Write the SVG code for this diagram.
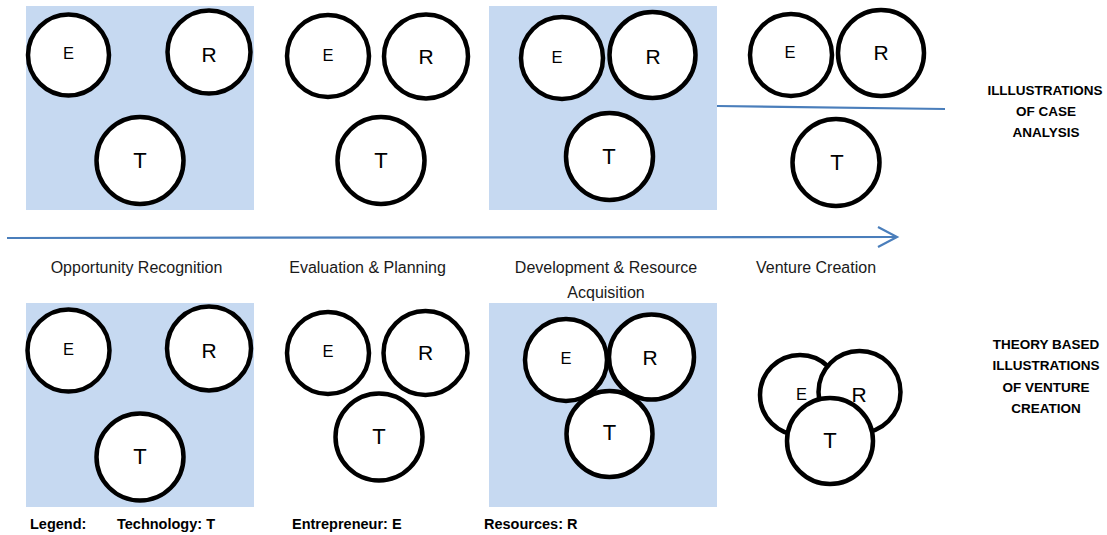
<svg xmlns="http://www.w3.org/2000/svg" width="1107" height="535" viewBox="0 0 1107 535">
  <style>
    .panel { fill: #c6d9f1; }
    .node circle { fill: #ffffff; stroke: #000000; stroke-width: 4.5; }
    .node text { font-family: "Liberation Sans", Arial, sans-serif; fill: #000000; text-anchor: middle; }
    .e { font-size: 16.5px; }
    .r { font-size: 21px; }
    .t { font-size: 22px; }
    .stage { font-family: "Liberation Sans", Arial, sans-serif; font-size: 16px; fill: #1a1a1a; text-anchor: middle; }
    .side { font-family: "Liberation Sans", Arial, sans-serif; font-size: 13.5px; font-weight: bold; fill: #000000; text-anchor: middle; }
    .legend { font-family: "Liberation Sans", Arial, sans-serif; font-size: 14.5px; font-weight: bold; fill: #000000; }
    .conn { fill: none; stroke: #4a7ebb; stroke-width: 2.2; }
  </style>

  <!-- shaded stage panels -->
  <g id="panels">
    <rect class="panel" x="26" y="6" width="228" height="204"/>
    <rect class="panel" x="489" y="6" width="228" height="204"/>
    <rect class="panel" x="26" y="303" width="228" height="204"/>
    <rect class="panel" x="489" y="303" width="228" height="204"/>
  </g>

  <!-- connectors: timeline arrow and row divider -->
  <g id="connectors">
    <line class="conn" x1="7" y1="238" x2="896" y2="237"/>
    <polyline class="conn" points="878,227 897,237 878,247"/>
    <line class="conn" x1="717" y1="106" x2="945" y2="109"/>
  </g>

  <!-- upper row: case analysis -->
  <g id="case-opportunity" class="node">
    <circle cx="68.5" cy="55" r="40.5"/><text class="e" x="68.5" y="58.5">E</text>
    <circle cx="209" cy="52" r="41.5"/><text class="r" x="209" y="61.5">R</text>
    <circle cx="140" cy="160.5" r="43.5"/><text class="t" x="140" y="168">T</text>
  </g>
  <g id="case-evaluation" class="node">
    <circle cx="328" cy="56" r="41"/><text class="e" x="328" y="61">E</text>
    <circle cx="426" cy="56.5" r="42"/><text class="r" x="426" y="64">R</text>
    <circle cx="381" cy="160.5" r="43.5"/><text class="t" x="381" y="168">T</text>
  </g>
  <g id="case-development" class="node">
    <circle cx="562" cy="58" r="41"/><text class="e" x="557" y="62.5">E</text>
    <circle cx="652.5" cy="55" r="43"/><text class="r" x="653" y="64">R</text>
    <circle cx="609.5" cy="156.5" r="43.5"/><text class="t" x="609" y="164">T</text>
  </g>
  <g id="case-venture" class="node">
    <circle cx="791" cy="55" r="41"/><text class="e" x="790" y="57.5">E</text>
    <circle cx="881" cy="53" r="43"/><text class="r" x="881" y="60">R</text>
    <circle cx="836" cy="162.5" r="43.5"/><text class="t" x="837" y="170">T</text>
  </g>

  <!-- stage labels -->
  <g id="stage-labels">
    <text class="stage" x="136.5" y="273">Opportunity Recognition</text>
    <text class="stage" x="367.5" y="273">Evaluation &amp; Planning</text>
    <text class="stage" x="606" y="273">Development &amp; Resource</text>
    <text class="stage" x="606" y="298">Acquisition</text>
    <text class="stage" x="816" y="273">Venture Creation</text>
  </g>

  <!-- lower row: theory based -->
  <g id="theory-opportunity" class="node">
    <circle cx="68.5" cy="350.5" r="41"/><text class="e" x="68.5" y="354.5">E</text>
    <circle cx="209" cy="348.5" r="42"/><text class="r" x="209" y="357.5">R</text>
    <circle cx="140" cy="457" r="43.5"/><text class="t" x="140" y="463.5">T</text>
  </g>
  <g id="theory-evaluation" class="node">
    <circle cx="328" cy="353" r="41"/><text class="e" x="328" y="357">E</text>
    <circle cx="425.5" cy="353" r="42"/><text class="r" x="425.5" y="360">R</text>
    <circle cx="379" cy="437" r="43.5"/><text class="t" x="379" y="443.5">T</text>
  </g>
  <g id="theory-development" class="node">
    <circle cx="566" cy="360" r="41"/><text class="e" x="566" y="363.5">E</text>
    <circle cx="651.5" cy="357" r="42.5"/><text class="r" x="650" y="365">R</text>
    <circle cx="609.5" cy="434" r="43"/><text class="t" x="609.5" y="439.5">T</text>
  </g>
  <g id="theory-venture" class="node">
    <circle cx="800" cy="395" r="40"/><text class="e" x="801.5" y="400">E</text>
    <circle cx="859.5" cy="392" r="41"/><text class="r" x="859" y="401.5">R</text>
    <circle cx="830" cy="441" r="43"/><text class="t" x="830" y="447.5">T</text>
  </g>

  <!-- row captions -->
  <g id="row-captions">
    <text class="side" x="1045" y="95">ILLLUSTRATIONS</text>
    <text class="side" x="1046" y="116">OF CASE</text>
    <text class="side" x="1046" y="137">ANALYSIS</text>
    <text class="side" x="1046" y="349">THEORY BASED</text>
    <text class="side" x="1046" y="370">ILLUSTRATIONS</text>
    <text class="side" x="1046" y="391.5">OF VENTURE</text>
    <text class="side" x="1046" y="413">CREATION</text>
  </g>

  <!-- legend -->
  <g id="legend">
    <text class="legend" x="30" y="529">Legend:</text>
    <text class="legend" x="117" y="529">Technology: T</text>
    <text class="legend" x="292" y="529">Entrepreneur: E</text>
    <text class="legend" x="484" y="529">Resources: R</text>
  </g>
</svg>
